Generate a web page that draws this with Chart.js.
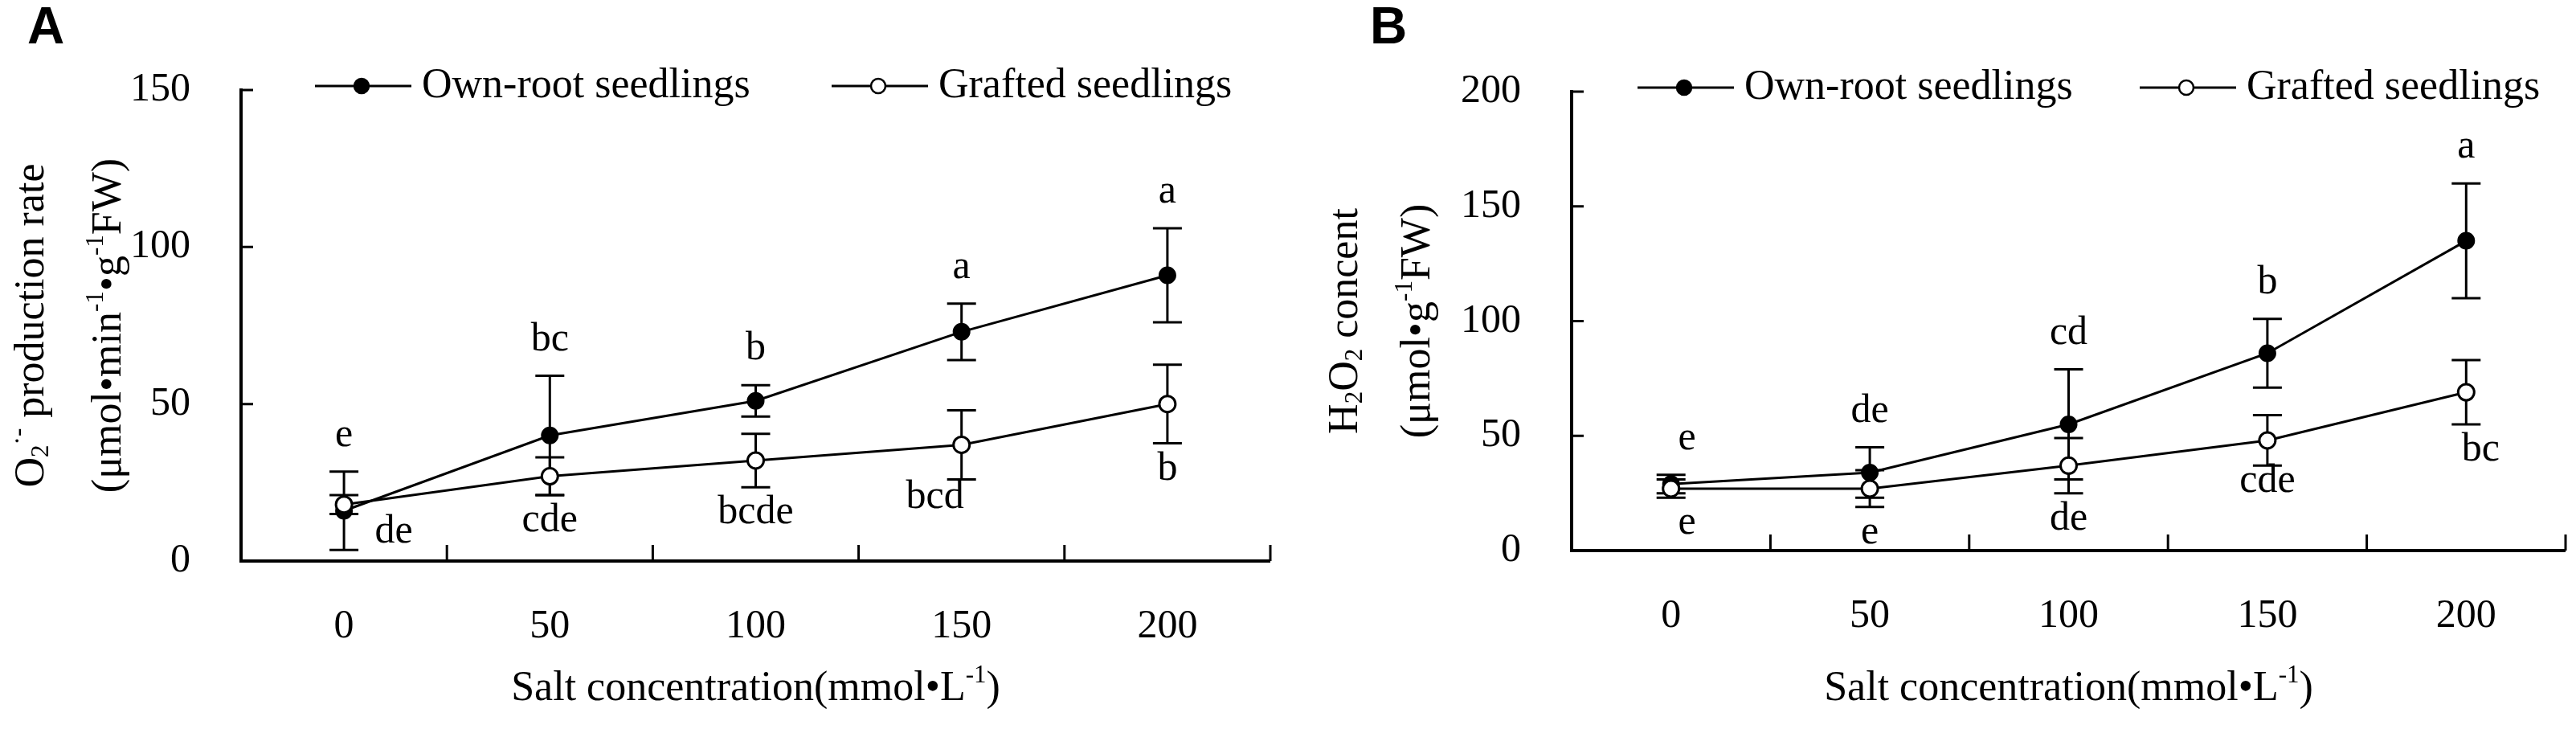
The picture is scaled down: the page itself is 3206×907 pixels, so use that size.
<!DOCTYPE html>
<html>
<head>
<meta charset="utf-8">
<script src="https://cdn.jsdelivr.net/npm/chart.js@4.4.0/dist/chart.umd.min.js"></script>
<style>
  html, body { margin: 0; padding: 0; background: #fff; }
  #wrap { position: relative; width: 3206px; height: 907px; overflow: hidden; }
  canvas { position: absolute; top: 0; }
</style>
</head>
<body>
<div id="wrap">
  <canvas id="chartA" width="1603" height="907" style="left:0;width:1603px;height:907px"></canvas>
  <canvas id="chartB" width="1603" height="907" style="left:1603px;width:1603px;height:907px"></canvas>
</div>
<script>
// salt levels on the x axis
const saltLevels = ['0', '50', '100', '150', '200'];

// panel A: O2- production rate
const o2OwnRoot = [16, 40, 51, 73, 91];
const o2OwnRootErr = [12.5, 19, 5, 9, 15];
const o2Grafted = [18, 27, 32, 37, 50];
const o2GraftedErr = [3, 6, 8.5, 11, 12.5];
const o2OwnLetters = ['e', 'bc', 'b', 'a', 'a'];
const o2GraftedLetters = ['de', 'cde', 'bcde', 'bcd', 'b'];

// panel B: H2O2 content
const h2o2OwnRoot = [29, 34, 55, 86, 135];
const h2o2OwnRootErr = [4, 11, 24, 15, 25];
const h2o2Grafted = [27, 27, 37, 48, 69];
const h2o2GraftedErr = [4, 8, 12, 11, 14];
const h2o2OwnLetters = ['e', 'de', 'cd', 'b', 'a'];
const h2o2GraftedLetters = ['e', 'e', 'de', 'cde', 'bc'];

const SERIF = '"Liberation Serif", "Times New Roman", serif';
Chart.defaults.font.family = SERIF;
Chart.defaults.color = '#000';

// draws text pieces with sub/superscripts; mode 1 = sup, -1 = sub
function richText(ctx, parts, x, y, size, align) {
  let total = 0;
  const widths = parts.map(([t, m]) => {
    ctx.font = (m ? Math.round(size * 0.6) : size) + 'px ' + SERIF;
    const w = ctx.measureText(t).width;
    total += w;
    return w;
  });
  let cx = align === 'center' ? x - total / 2 : x;
  ctx.textAlign = 'left';
  ctx.textBaseline = 'middle';
  parts.forEach(([t, m], i) => {
    ctx.font = (m ? Math.round(size * 0.6) : size) + 'px ' + SERIF;
    const dy = m === 1 ? -size * 0.32 : (m === -1 ? size * 0.22 : 0);
    ctx.fillText(t, cx, y + dy);
    cx += widths[i];
  });
}

function makeDecor(cfg) {
  return {
    id: 'decor',
    beforeDatasetsDraw(chart) {
      const ctx = chart.ctx, ys = chart.scales.y;
      ctx.save();
      ctx.strokeStyle = '#000';
      ctx.lineWidth = 3;
      cfg.errors.forEach((errs, di) => {
        const meta = chart.getDatasetMeta(di);
        const vals = chart.data.datasets[di].data;
        meta.data.forEach((pt, j) => {
          const yt = ys.getPixelForValue(vals[j] + errs[j]);
          const yb = ys.getPixelForValue(vals[j] - errs[j]);
          ctx.beginPath();
          ctx.moveTo(pt.x, yt); ctx.lineTo(pt.x, yb);
          ctx.moveTo(pt.x - 18, yt); ctx.lineTo(pt.x + 18, yt);
          ctx.moveTo(pt.x - 18, yb); ctx.lineTo(pt.x + 18, yb);
          ctx.stroke();
        });
      });
      ctx.restore();
    },
    afterDraw(chart) {
      const ctx = chart.ctx, xs = chart.scales.x, ys = chart.scales.y;
      const a = chart.chartArea;
      ctx.save();
      ctx.strokeStyle = '#000';
      ctx.fillStyle = '#000';

      // axes with inward ticks
      ctx.lineWidth = 4;
      ctx.beginPath();
      ctx.moveTo(a.left, a.top - 2);
      ctx.lineTo(a.left, a.bottom);
      ctx.lineTo(a.right, a.bottom);
      ctx.stroke();
      ctx.lineWidth = 3;
      ctx.beginPath();
      ys.ticks.forEach(t => {
        if (t.value === 0) return;
        const y = ys.getPixelForValue(t.value);
        ctx.moveTo(a.left, y); ctx.lineTo(a.left + 15, y);
      });
      const n = saltLevels.length;
      for (let j = 1; j <= n; j++) {
        const x = j < n ? (xs.getPixelForValue(j - 1) + xs.getPixelForValue(j)) / 2 : a.right;
        ctx.moveTo(x, a.bottom); ctx.lineTo(x, a.bottom - 20);
      }
      ctx.stroke();

      // significance letters
      ctx.font = '50px ' + SERIF;
      ctx.textAlign = 'center';
      ctx.textBaseline = 'middle';
      cfg.letters.forEach((set, di) => {
        const meta = chart.getDatasetMeta(di);
        const vals = chart.data.datasets[di].data;
        const errs = cfg.errors[di];
        meta.data.forEach((pt, j) => {
          const nudge = (cfg.nudge[di] && cfg.nudge[di][j]) || [0, 0];
          let y;
          if (set.above) y = ys.getPixelForValue(vals[j] + errs[j]) - 45;
          else y = ys.getPixelForValue(vals[j] - errs[j]) + 32;
          ctx.fillText(set.text[j], pt.x + nudge[0], y + nudge[1]);
        });
      });

      // legend
      const ly = cfg.legendY;
      cfg.legend.forEach(item => {
        ctx.lineWidth = 3;
        ctx.beginPath();
        ctx.moveTo(item.x, ly); ctx.lineTo(item.x + 120, ly);
        ctx.stroke();
        ctx.beginPath();
        ctx.arc(item.x + 58, ly, 9, 0, Math.PI * 2);
        ctx.fillStyle = item.filled ? '#000' : '#fff';
        ctx.fill();
        ctx.lineWidth = 2.5;
        ctx.stroke();
        ctx.fillStyle = '#000';
        ctx.font = '52px ' + SERIF;
        ctx.textAlign = 'left';
        ctx.textBaseline = 'middle';
        ctx.fillText(item.label, item.x + 133, ly);
      });

      // x axis title
      richText(ctx, [['Salt concentration(mmol•L', 0], ['-1', 1], [')', 0]],
        (a.left + a.right) / 2, 857, 52, 'center');

      // y axis title (two rotated lines)
      const cy = (a.top + a.bottom) / 2;
      cfg.yTitle.forEach(line => {
        ctx.save();
        ctx.translate(line.x, cy);
        ctx.rotate(-Math.PI / 2);
        richText(ctx, line.parts, 0, 0, 52, 'center');
        ctx.restore();
      });

      // panel letter
      ctx.fillStyle = '#000';
      ctx.font = 'bold 64px "Liberation Sans", Arial, sans-serif';
      ctx.textAlign = 'left';
      ctx.textBaseline = 'top';
      ctx.fillText(cfg.panel, cfg.panelX, 4);
      ctx.restore();
    }
  };
}

function buildChart(id, own, grafted, yMax, pad, yWidth, decor) {
  return new Chart(document.getElementById(id), {
    type: 'line',
    data: {
      labels: saltLevels,
      datasets: [
        {
          label: 'Own-root seedlings', data: own, order: 1,
          borderColor: '#000', borderWidth: 3, tension: 0,
          pointRadius: 10, pointBackgroundColor: '#000', pointBorderColor: '#000', pointBorderWidth: 2
        },
        {
          label: 'Grafted seedlings', data: grafted, order: 0,
          borderColor: '#000', borderWidth: 3, tension: 0,
          pointRadius: 10, pointBackgroundColor: '#fff', pointBorderColor: '#000', pointBorderWidth: 3
        }
      ]
    },
    options: {
      responsive: false,
      animation: false,
      devicePixelRatio: 1,
      layout: { padding: pad },
      plugins: { legend: { display: false }, tooltip: { enabled: false } },
      scales: {
        x: {
          type: 'category', offset: true,
          grid: { display: false, drawTicks: false }, border: { display: false },
          ticks: { font: { size: 50 }, color: '#000', padding: 52, maxRotation: 0 },
          afterFit: s => { s.height = 907 - pad.top - (pad.bottomArea); }
        },
        y: {
          min: 0, max: yMax,
          grid: { display: false, drawTicks: false }, border: { display: false },
          ticks: { stepSize: 50, font: { size: 50 }, color: '#000', padding: 63 },
          afterFit: s => { s.width = yWidth; }
        }
      }
    },
    plugins: [makeDecor(decor)]
  });
}

buildChart('chartA', o2OwnRoot, o2Grafted, 150,
  { top: 112, right: 22, left: 0, bottom: 0, bottomArea: 586 }, 300, {
    panel: 'A', panelX: 34,
    errors: [o2OwnRootErr, o2GraftedErr],
    letters: [{ text: o2OwnLetters, above: true }, { text: o2GraftedLetters, above: false }],
    nudge: [[], [[62, -10], [0, 0], [0, 0], [-33, -10], [0, 0]]],
    legendY: 107,
    legend: [
      { x: 392, label: 'Own-root seedlings', filled: true },
      { x: 1035, label: 'Grafted seedlings', filled: false }
    ],
    yTitle: [
      { x: 40, parts: [['O', 0], ['2', -1], ['·-', 1], [' production rate', 0]] },
      { x: 136, parts: [['(μmol•min', 0], ['-1', 1], ['•g', 0], ['-1', 1], ['FW)', 0]] }
    ]
  });

buildChart('chartB', h2o2OwnRoot, h2o2Grafted, 200,
  { top: 114, right: 7, left: 0, bottom: 0, bottomArea: 571 }, 353, {
    panel: 'B', panelX: 102,
    errors: [h2o2OwnRootErr, h2o2GraftedErr],
    letters: [{ text: h2o2OwnLetters, above: true }, { text: h2o2GraftedLetters, above: false }],
    nudge: [[[20, 0]], [[20, 0], [0, 0], [0, 0], [0, -12], [18, 0]]],
    legendY: 109,
    legend: [
      { x: 435, label: 'Own-root seedlings', filled: true },
      { x: 1060, label: 'Grafted seedlings', filled: false }
    ],
    yTitle: [
      { x: 72, parts: [['H', 0], ['2', -1], ['O', 0], ['2', -1], [' concent', 0]] },
      { x: 162, parts: [['(μmol•g', 0], ['-1', 1], ['FW)', 0]] }
    ]
  });
</script>
</body>
</html>
